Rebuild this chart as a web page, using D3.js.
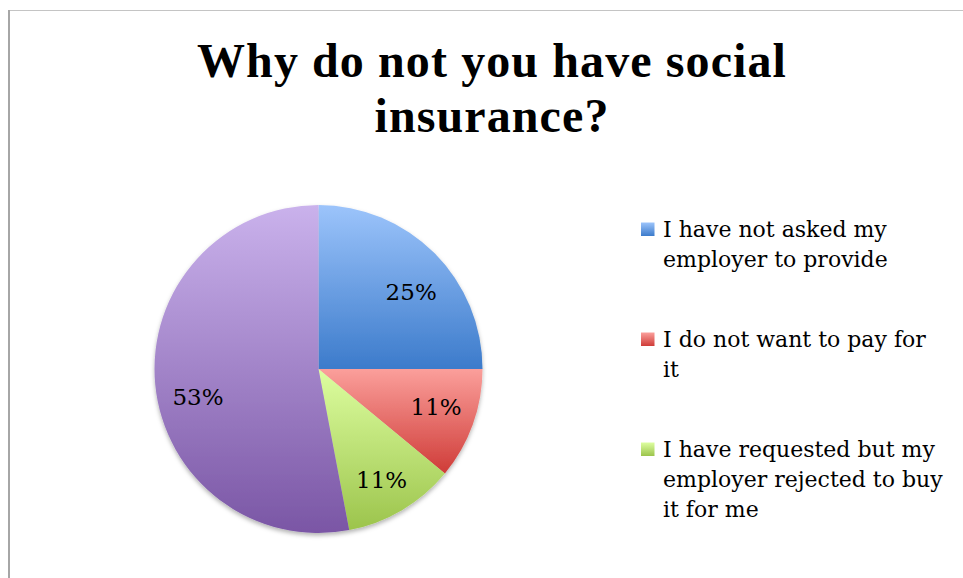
<!DOCTYPE html>
<html>
<head>
<meta charset="utf-8">
<script src="https://cdn.jsdelivr.net/npm/d3@7"></script>
<style>
  html, body { margin: 0; padding: 0; background: #fff; overflow: hidden; }
  svg { display: block; }
</style>
</head>
<body>
<svg id="chart" width="963" height="578"></svg>
<script>
// Survey answers: share of respondents per reason (percent)
const titleLines = ["Why do not you have social", "insurance?"];
const categories = [
  "I have not asked my\nemployer to provide",
  "I do not want to pay for\nit",
  "I have requested but my\nemployer rejected to buy\nit for me",
  ""
];
const shares = [25, 11, 11, 53];

// Slice palette: light top stop and dark bottom stop of each gradient
const lightColors = ["#9cc4fb", "#fb9f9b", "#ddfea0", "#cab2ec"];
const darkColors  = ["#3c7bcb", "#cf3c38", "#9cc44c", "#7a56a5"];

const width = 963, height = 578;
const svg = d3.select("#chart");
const defs = svg.append("defs");

// Gradients (per shape bounding box, top to bottom)
shares.forEach((_, i) => {
  const g = defs.append("linearGradient")
    .attr("id", "grad" + i)
    .attr("x1", 0).attr("y1", 0).attr("x2", 0).attr("y2", 1);
  g.append("stop").attr("offset", "0%").attr("stop-color", lightColors[i]);
  g.append("stop").attr("offset", "100%").attr("stop-color", darkColors[i]);
});

// Soft shadow under the pie
const shadow = defs.append("filter").attr("id", "pieShadow")
  .attr("x", "-10%").attr("y", "-10%").attr("width", "120%").attr("height", "125%");
shadow.append("feDropShadow")
  .attr("dx", 0).attr("dy", 2.5).attr("stdDeviation", 2.2)
  .attr("flood-color", "#000").attr("flood-opacity", 0.3);

// Frame lines
svg.append("line").attr("x1", 8).attr("x2", width).attr("y1", 10.5).attr("y2", 10.5)
  .attr("stroke", "#c4c4c4").attr("stroke-width", 1.2);
svg.append("line").attr("x1", 9).attr("x2", 9).attr("y1", 10).attr("y2", height)
  .attr("stroke", "#a6a6a6").attr("stroke-width", 2);

// Title
const title = svg.append("text")
  .attr("text-anchor", "middle")
  .style("font-family", "'Liberation Serif', serif")
  .style("font-weight", "bold")
  .style("font-size", "48px")
  .style("letter-spacing", "1.1px")
  .attr("fill", "#000");
titleLines.forEach((line, i) => {
  title.append("tspan").attr("x", 492).attr("y", 77 + i * 55).text(line);
});

// Pie
const cx = 318.5, cy = 369, radius = 164;
const pie = d3.pie().sort(null).value(d => d);
const arcs = pie(shares);
const arc = d3.arc().innerRadius(0).outerRadius(radius);
const labelArc = d3.arc().innerRadius(124).outerRadius(124);

const pieG = svg.append("g").attr("transform", `translate(${cx},${cy})`);
pieG.append("g").attr("filter", "url(#pieShadow)")
  .selectAll("path")
  .data(arcs)
  .join("path")
  .attr("d", arc)
  .attr("fill", (d, i) => `url(#grad${i})`);

// Percent labels placed near each slice centroid
const labelNudge = [[5, 10], [1, -4], [0, 4], [3, 16]];
pieG.append("g")
  .selectAll("text")
  .data(arcs)
  .join("text")
  .attr("transform", (d, i) => {
    const [x, y] = labelArc.centroid(d);
    return `translate(${x + labelNudge[i][0]},${y + labelNudge[i][1]})`;
  })
  .attr("text-anchor", "middle")
  .attr("dy", "0.36em")
  .style("font-family", "'DejaVu Serif', serif")
  .style("font-size", "23px")
  .attr("fill", "#000")
  .text(d => d3.format(".0%")(d.value / d3.sum(shares)));

// Legend
const legendItems = categories.map((c, i) => ({ name: c, i })).filter(d => d.name);
const legend = svg.append("g").attr("transform", "translate(641,236.5)");
const item = legend.selectAll("g")
  .data(legendItems)
  .join("g")
  .attr("transform", (d, k) => `translate(0,${k * 110})`);
item.append("rect")
  .attr("x", 0).attr("y", -14).attr("width", 13.5).attr("height", 13.5)
  .attr("fill", d => `url(#grad${d.i})`);
const itemText = item.append("text")
  .style("font-family", "'DejaVu Serif', serif")
  .style("font-size", "22px")
  .attr("fill", "#000");
itemText.selectAll("tspan")
  .data(d => d.name.split("\n"))
  .join("tspan")
  .attr("x", 22)
  .attr("y", (d, k) => k * 30.3)
  .text(d => d);
</script>
</body>
</html>
